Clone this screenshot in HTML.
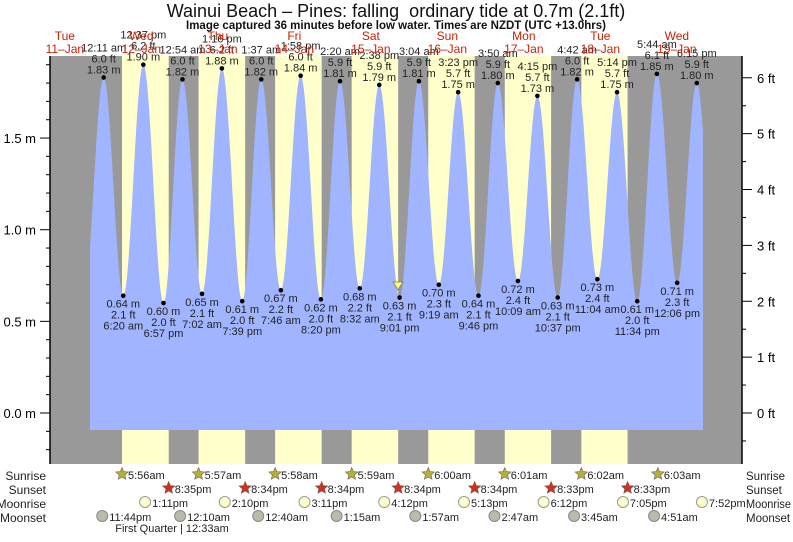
<!DOCTYPE html>
<html><head><meta charset="utf-8"><style>
body{margin:0;background:#fff;width:793px;height:537px;overflow:hidden}
svg{font-family:"Liberation Sans",sans-serif}
</style></head><body>
<svg id="s" width="793" height="537" xmlns="http://www.w3.org/2000/svg"></svg>
<script>
const S=document.getElementById('s');
const W0=103.1,PD=76.5,PH=PD/24;
const Y=m=>413-m*183.3;
function X(d,t){let [hm,ap]=t.split(' ');let [h,mi]=hm.split(':').map(Number);if(ap=='pm'&&h!=12)h+=12;if(ap=='am'&&h==12)h=0;return W0+d*PD+(h+mi/60)*PH;}
let out='';
const add=s=>out+=s;
add('<rect x="50" y="56" width="692" height="408" fill="#999"/>');
const sr=['5:56','5:57','5:58','5:59','6:00','6:01','6:02','6:03'],ss=['8:35','8:34','8:34','8:34','8:34','8:33','8:33'];
for(let d=0;d<7;d++){let a=X(d,sr[d]+' am'),b=X(d,ss[d]+' pm');add(`<rect x="${a}" y="56" width="${b-a}" height="408" fill="#ffffcc"/>`);}
const T=[[-1,'5:50 pm',0.62,0],[0,'12:11 am',1.83,1],[0,'6:20 am',0.64,1],[0,'12:37 pm',1.90,1],[0,'6:57 pm',0.60,1],[1,'12:54 am',1.82,1],[1,'7:02 am',0.65,1],[1,'1:16 pm',1.88,1],[1,'7:39 pm',0.61,1],[2,'1:37 am',1.82,1],[2,'7:46 am',0.67,1],[2,'1:58 pm',1.84,1],[2,'8:20 pm',0.62,1],[3,'2:20 am',1.81,1],[3,'8:32 am',0.68,1],[3,'2:38 pm',1.79,1],[3,'9:01 pm',0.63,1],[4,'3:04 am',1.81,1],[4,'9:19 am',0.70,1],[4,'3:23 pm',1.75,1],[4,'9:46 pm',0.64,1],[5,'3:50 am',1.80,1],[5,'10:09 am',0.72,1],[5,'4:15 pm',1.73,1],[5,'10:37 pm',0.63,1],[6,'4:42 am',1.82,1],[6,'11:04 am',0.73,1],[6,'5:14 pm',1.75,1],[6,'11:34 pm',0.61,1],[7,'5:44 am',1.85,1],[7,'12:06 pm',0.71,1],[7,'6:15 pm',1.80,1],[8,'12:30 am',0.62,0]];
const P=T.map(t=>[X(t[0],t[1]),t[2]]);
let path='M90,430';
for(let x=90;x<=703;x+=0.5){let i=0;while(P[i+1][0]<x)i++;let [x0,h0]=P[i],[x1,h1]=P[i+1];let f=(x-x0)/(x1-x0);let h=h0+(h1-h0)*(1-Math.cos(Math.PI*f))/2;path+=` L${x},${Y(h).toFixed(1)}`;}
path+=' L703,430 Z';
add(`<path d="${path}" fill="#a0b4ff"/>`);
add('<line x1="50" y1="56" x2="50" y2="464" stroke="#000" stroke-width="1.5"/><line x1="742" y1="56" x2="742" y2="464" stroke="#000" stroke-width="1.5"/>');
for(let k=-5;k<=20;k++){let y=Y(k/10);if(y<56||y>464)continue;let L=k%5==0?10:4;add(`<line x1="${50-L}" y1="${y}" x2="50" y2="${y}" stroke="#000"/>`);if(k%5==0&&k>=0)add(`<text x="36" y="${y+5}" font-size="13" text-anchor="end">${(k/10).toFixed(1)} m</text>`);}
for(let k=-2;k<=13;k++){let y=Y(k*0.3048/2);if(y<56||y>464)continue;let L=k%2==0?10:4;add(`<line x1="742" y1="${y}" x2="${742+L}" y2="${y}" stroke="#000"/>`);if(k%2==0&&k>=0)add(`<text x="757" y="${y+5}" font-size="13">${k/2} ft</text>`);}
T.forEach(t=>{if(!t[3])return;let x=X(t[0],t[1]),y=Y(t[2]);let ft=(t[2]/0.3048).toFixed(1)+' ft',m=t[2].toFixed(2)+' m';add(`<circle cx="${x}" cy="${y}" r="2.3" fill="#000"/>`);
let a=`<text font-size="11" fill="#222" text-anchor="middle">`;
if(t[2]>1){add(`${a}<tspan x="${x}" y="${y-26}">${t[1]}</tspan><tspan x="${x}" y="${y-15}">${ft}</tspan><tspan x="${x}" y="${y-4}">${m}</tspan></text>`);}
else{add(`${a}<tspan x="${x}" y="${y+12}">${m}</tspan><tspan x="${x}" y="${y+23}">${ft}</tspan><tspan x="${x}" y="${y+34}">${t[1]}</tspan></text>`);}});
add('<polygon points="393,282 403,282 398,290" fill="#ffff66" stroke="#777" stroke-width="0.8"/>');
const dn=['Tue','Wed','Thu','Fri','Sat','Sun','Mon','Tue','Wed'];
for(let d=-1;d<8;d++){let x=X(d,'12:00 pm');add(`<text font-size="12" fill="#cc2200" text-anchor="middle"><tspan x="${x}" y="40">${dn[d+1]}</tspan><tspan x="${x}" y="53">${11+d+1}–Jan</tspan></text>`);}
add('<text x="396" y="17" font-size="18" text-anchor="middle" fill="#111">Wainui Beach – Pines: falling&#160; ordinary tide at 0.7m (2.1ft)</text>');
add('<text x="396" y="29" font-size="11.5" font-weight="bold" text-anchor="middle" fill="#111">Image captured 36 minutes before low water. Times are NZDT (UTC +13.0hrs)</text>');
const rows=[['Sunrise',475],['Sunset',489],['Moonrise',503],['Moonset',517]];
rows.forEach(r=>{let tl=r[0]=='Moonrise'?' textLength="45" lengthAdjust="spacingAndGlyphs"':'';add(`<text x="46" y="${r[1]+5}" font-size="12" text-anchor="end" fill="#222">${r[0]}</text><text x="746" y="${r[1]+5}" font-size="11.5" fill="#222"${tl}>${r[0]}</text>`);});
function star(x,y,c){let p=[];for(let i=0;i<10;i++){let r=i%2?3:6.5,a=-Math.PI/2+i*Math.PI/5;p.push((x+r*Math.cos(a)).toFixed(1)+','+(y+r*Math.sin(a)).toFixed(1));}add(`<polygon points="${p.join(' ')}" fill="${c}" stroke="#666" stroke-width="0.6"/>`);}
for(let d=0;d<8;d++){let x=X(d,sr[d]+' am');star(x,474,'#b5b035');add(`<text x="${x+6}" y="479" font-size="11" fill="#222">${sr[d]}am</text>`);}
for(let d=0;d<7;d++){let x=X(d,ss[d]+' pm');star(x,488,'#d03020');add(`<text x="${x+6}" y="493" font-size="11" fill="#222">${ss[d]}pm</text>`);}
const mr=['1:11','2:10','3:11','4:12','5:13','6:12','7:05','7:52'];
for(let d=0;d<8;d++){let x=X(d,mr[d]+' pm');add(`<circle cx="${x}" cy="502" r="5.5" fill="#ffffcc" stroke="#999"/><text x="${x+7}" y="507" font-size="11" fill="#222">${mr[d]}pm</text>`);}
const ms=[[-1,'11:44 pm'],[1,'12:10 am'],[2,'12:40 am'],[3,'1:15 am'],[4,'1:57 am'],[5,'2:47 am'],[6,'3:45 am'],[7,'4:51 am']];
ms.forEach(m=>{let x=X(m[0],m[1]);add(`<circle cx="${x}" cy="516" r="5.5" fill="#bbbbaa" stroke="#888"/><text x="${x+7}" y="521" font-size="11" fill="#222">${m[1].replace(' ','')}</text>`);});
add('<text x="172" y="532" font-size="11" text-anchor="middle" fill="#222">First Quarter | 12:33am</text>');
S.innerHTML=out;
</script>
</body></html>
